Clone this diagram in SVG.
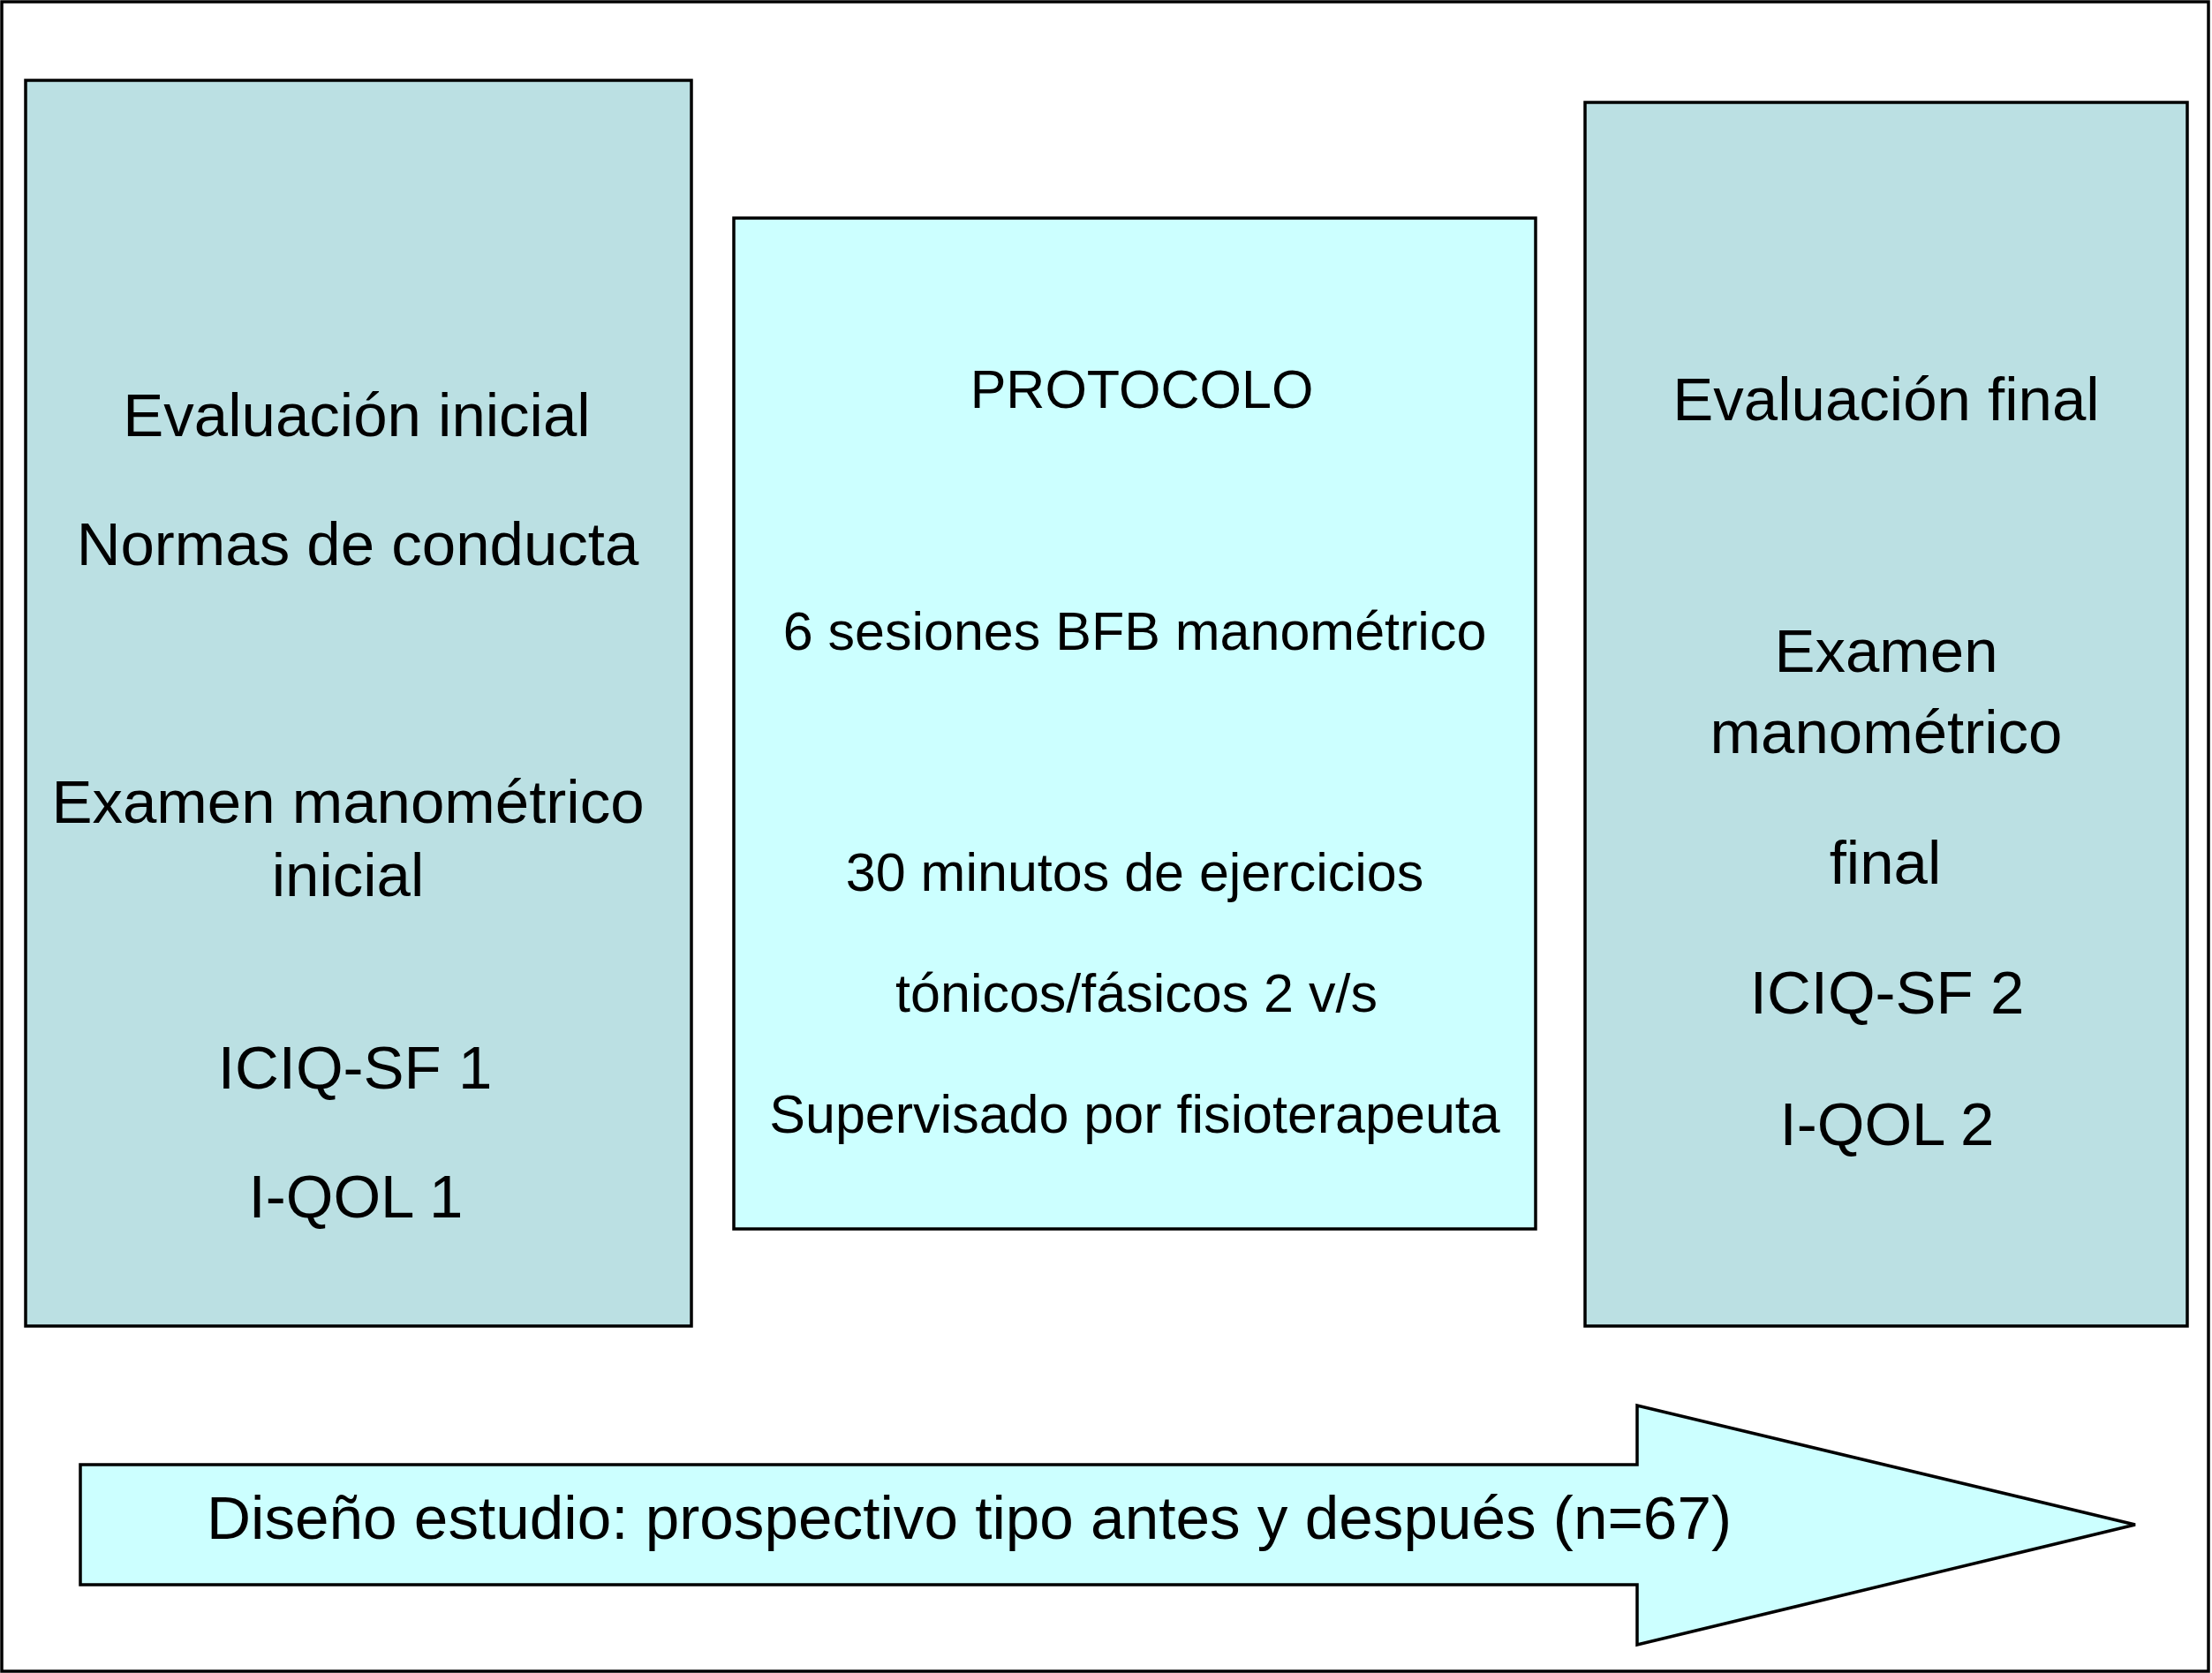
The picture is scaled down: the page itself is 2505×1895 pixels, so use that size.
<svg xmlns="http://www.w3.org/2000/svg" width="2505" height="1895" viewBox="0 0 2505 1895">
<style>
.box{stroke:#000;stroke-width:3.5}
.eval{fill:#BBE0E3}
.prot{fill:#CCFFFF}
.t{font-family:"Liberation Sans",Arial,Helvetica,sans-serif;fill:#000;text-anchor:middle}
.big{font-size:69px}
.mid{font-size:61px}
</style>
<rect x="0" y="0" width="2505" height="1895" fill="#fff"/>
<rect x="2" y="2" width="2499" height="1891" fill="none" stroke="#000" stroke-width="3.5"/>
<g id="evaluacion-inicial">
<rect class="box eval" x="29" y="91" width="754" height="1411"/>
<text class="t big" x="404" y="494">Evaluación inicial</text>
<text class="t big" x="405" y="640">Normas de conducta</text>
<text class="t big" x="394" y="932">Examen manométrico</text>
<text class="t big" x="394" y="1015">inicial</text>
<text class="t big" x="402" y="1233">ICIQ-SF 1</text>
<text class="t big" x="403" y="1379">I-QOL 1</text>
</g>
<g id="protocolo">
<rect class="box prot" x="831" y="247" width="908" height="1145"/>
<text class="t mid" x="1293" y="462">PROTOCOLO</text>
<text class="t mid" x="1285" y="736">6 sesiones BFB manométrico</text>
<text class="t mid" x="1285" y="1009">30 minutos de ejercicios</text>
<text class="t mid" x="1287" y="1146">tónicos/fásicos 2 v/s</text>
<text class="t mid" x="1285" y="1283">Supervisado por fisioterapeuta</text>
</g>
<g id="evaluacion-final">
<rect class="box eval" x="1795" y="116" width="682" height="1386"/>
<text class="t big" x="2136" y="476">Evaluación final</text>
<text class="t big" x="2136" y="761">Examen</text>
<text class="t big" x="2136" y="853">manométrico</text>
<text class="t big" x="2135" y="1001">final</text>
<text class="t big" x="2137" y="1148">ICIQ-SF 2</text>
<text class="t big" x="2137" y="1297">I-QOL 2</text>
</g>
<g id="connectors">
<g id="arrow-diseno">
<polygon class="box prot" points="91,1659 1854,1659 1854,1592 2418,1727 1854,1863 1854,1795 91,1795"/>
<text class="t" x="234" y="1743" style="text-anchor:start;font-size:69px" textLength="1727" lengthAdjust="spacingAndGlyphs">Diseño estudio: prospectivo tipo antes y después (n=67)</text>
</g>
</g>
</svg>
